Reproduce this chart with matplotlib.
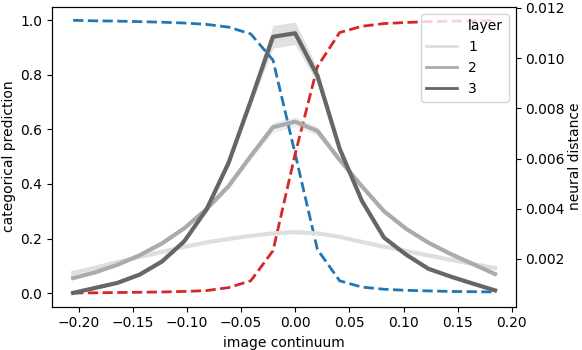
import matplotlib.pyplot as plt
import numpy as np
from matplotlib.lines import Line2D

# image continuum positions
x = [-0.205, -0.1845, -0.164, -0.1435, -0.123, -0.1025, -0.082, -0.0615, -0.041, -0.0205,
     0.0, 0.0205, 0.041, 0.0615, 0.082, 0.1025, 0.123, 0.1435, 0.164, 0.1845]

# categorical prediction (left axis)
pred_a = [1.0, 0.998, 0.997, 0.995, 0.993, 0.99, 0.985, 0.975, 0.95, 0.854,
          0.51, 0.16, 0.045, 0.022, 0.014, 0.01, 0.008, 0.006, 0.005, 0.004]
pred_b = [0.0, 0.001, 0.002, 0.003, 0.004, 0.006, 0.009, 0.02, 0.045, 0.155,
          0.51, 0.83, 0.955, 0.978, 0.988, 0.992, 0.995, 0.997, 0.998, 0.999]

# neural distance per layer (right axis)
layer1 = [0.00144, 0.00165, 0.00188, 0.00208, 0.00228, 0.00248, 0.00266, 0.0028, 0.00292, 0.00302,
          0.00307, 0.00302, 0.00288, 0.00268, 0.00249, 0.00232, 0.00214, 0.00197, 0.0018, 0.00164]
layer2 = [0.00124, 0.00147, 0.00177, 0.00215, 0.00262, 0.00322, 0.00398, 0.0049, 0.0061, 0.00725,
          0.00747, 0.0071, 0.00595, 0.0049, 0.0039, 0.0032, 0.00265, 0.0022, 0.0018, 0.0014]
layer3 = [0.00065, 0.00085, 0.00105, 0.00138, 0.0019, 0.0027, 0.00396, 0.00583, 0.0083, 0.01085,
          0.01099, 0.0093, 0.0064, 0.00432, 0.00285, 0.00217, 0.00161, 0.0013, 0.00102, 0.00075]

# spread of the shaded bands
err1 = [0.00005] * 20
err2 = [0.00005, 0.00005, 0.00005, 0.00005, 0.00005, 0.00006, 0.00008, 0.0001, 0.00012, 0.0002,
        0.0002, 0.00018, 0.0001, 0.00008, 0.00006, 0.00005, 0.00005, 0.00005, 0.00005, 0.00005]
err3 = [0.00005, 0.00005, 0.00005, 0.00005, 0.00006, 0.00008, 0.0001, 0.00015, 0.0002, 0.00045,
        0.00045, 0.0003, 0.00015, 0.0001, 0.00008, 0.00006, 0.00005, 0.00005, 0.00005, 0.00005]

layers = ['1', '2', '3']
layer_colors = ['#dedede', '#ababab', '#666666']

fig, ax = plt.subplots(figsize=(5.82, 3.5), dpi=100)
fig.subplots_adjust(left=0.0893, right=0.886, bottom=0.1237, top=0.981)

ax.plot(x, pred_a, '--', color='#1f77b4', lw=2)
ax.plot(x, pred_b, '--', color='#d62728', lw=2)
ax.set_ylim(-0.05, 1.05)
ax.set_xlim(-0.2245, 0.2035)
ax.set_xlabel('image continuum')
ax.set_ylabel('categorical prediction', labelpad=3)

ax2 = ax.twinx()
xs = np.array(x)
handles = [Line2D([], [], color='none')]
labels = ['layer']
for name, vals, err, col in zip(layers, [layer1, layer2, layer3], [err1, err2, err3], layer_colors):
    v = np.array(vals)
    e = np.array(err)
    ax2.fill_between(xs, v - e, v + e, color=col, alpha=0.2, lw=0)
    ax2.plot(xs, v, color=col, lw=3)
    handles.append(Line2D([], [], color=col, lw=2))
    labels.append(name)
ax2.set_ylim(0.0001, 0.01205)
ax2.set_yticks([0.002, 0.004, 0.006, 0.008, 0.010, 0.012])
ax2.set_ylabel('neural distance', labelpad=2)

ax2.legend(handles, labels, loc='upper right', handlelength=2.2)

plt.savefig('out.png')
